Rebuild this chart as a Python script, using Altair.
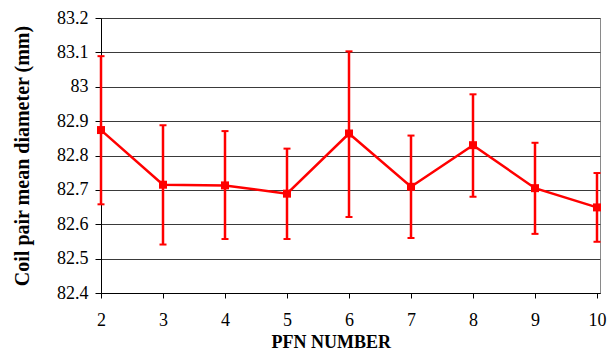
import altair as alt
import pandas as pd

pfn = [2, 3, 4, 5, 6, 7, 8, 9, 10]
mean_d = [82.874, 82.715, 82.713, 82.689, 82.864, 82.709, 82.830, 82.705, 82.649]
upper_d = [83.089, 82.888, 82.871, 82.820, 83.103, 82.858, 82.978, 82.837, 82.749]
lower_d = [82.658, 82.541, 82.557, 82.557, 82.621, 82.560, 82.680, 82.572, 82.549]
y_ticks = [82.4, 82.5, 82.6, 82.7, 82.8, 82.9, 83.0, 83.1, 83.2]
x_ticks = [2, 3, 4, 5, 6, 7, 8, 9, 10]

df = pd.DataFrame({"pfn": pfn, "mean": mean_d, "upper": upper_d, "lower": lower_d})

RED = "#FF0000"
FONT = "Liberation Serif, Times New Roman, serif"

xscale = alt.Scale(domain=[2, 2 + 8 * 499 / 496], nice=False, zero=False)
yscale = alt.Scale(domain=[82.4, 83.2], nice=False, zero=False)

xaxis = alt.Axis(
    title="PFN NUMBER", values=x_ticks, grid=False, format="d",
    titleX=229.7, titleY=54.5, titleBaseline="alphabetic", titleAlign="center",
    titleFontSize=18, titleFontWeight="bold", labelFontSize=18, labelPadding=13,
    tickSize=5, labelFlush=False, labelFont=FONT, titleFont=FONT,
)
yaxis = alt.Axis(
    title="Coil pair mean diameter (mm)", values=y_ticks, format=".1~f",
    titleX=-72.7, titleY=137.5, titleAngle=-90, titleBaseline="alphabetic",
    titleAlign="center", titleFontSize=20, titleFontWeight="bold",
    labelFontSize=18, labelPadding=7, tickSize=6, gridColor="#3a3a3a",
    labelFont=FONT, titleFont=FONT,
)

X = alt.X("pfn:Q", scale=xscale, axis=xaxis)


def Y(field):
    return alt.Y(field, type="quantitative", scale=yscale, axis=yaxis)


base = alt.Chart(df)

line = base.mark_line(color=RED, strokeWidth=2.5).encode(x=X, y=Y("mean"))

bars = base.mark_rule(color=RED, strokeWidth=2.5).encode(
    x=X, y=Y("lower"), y2="upper:Q",
)

cap_hi = base.mark_tick(color=RED, orient="horizontal", size=7, thickness=2, opacity=1).encode(
    x=X, y=Y("upper"),
)
cap_lo = base.mark_tick(color=RED, orient="horizontal", size=7, thickness=2, opacity=1).encode(
    x=X, y=Y("lower"),
)

pts = base.mark_point(shape="square", filled=True, size=64, color=RED, opacity=1).encode(
    x=X, y=Y("mean"),
)

chart = (
    alt.layer(line, bars, cap_hi, cap_lo, pts)
    .properties(
        width=499, height=275,
        autosize=alt.AutoSizeParams(type="none"),
        padding={"left": 101, "top": 18, "right": 7, "bottom": 59},
        background="white",
    )
    .configure_view(stroke="#8a8a8a", strokeWidth=1)
    .configure_axis(
        labelFont=FONT, titleFont=FONT, labelColor="black", titleColor="black",
        domainColor="black", tickColor="black", domainWidth=1, tickWidth=1,
    )
)

chart.save("out.html", embed_options={"renderer": "svg", "actions": False})
